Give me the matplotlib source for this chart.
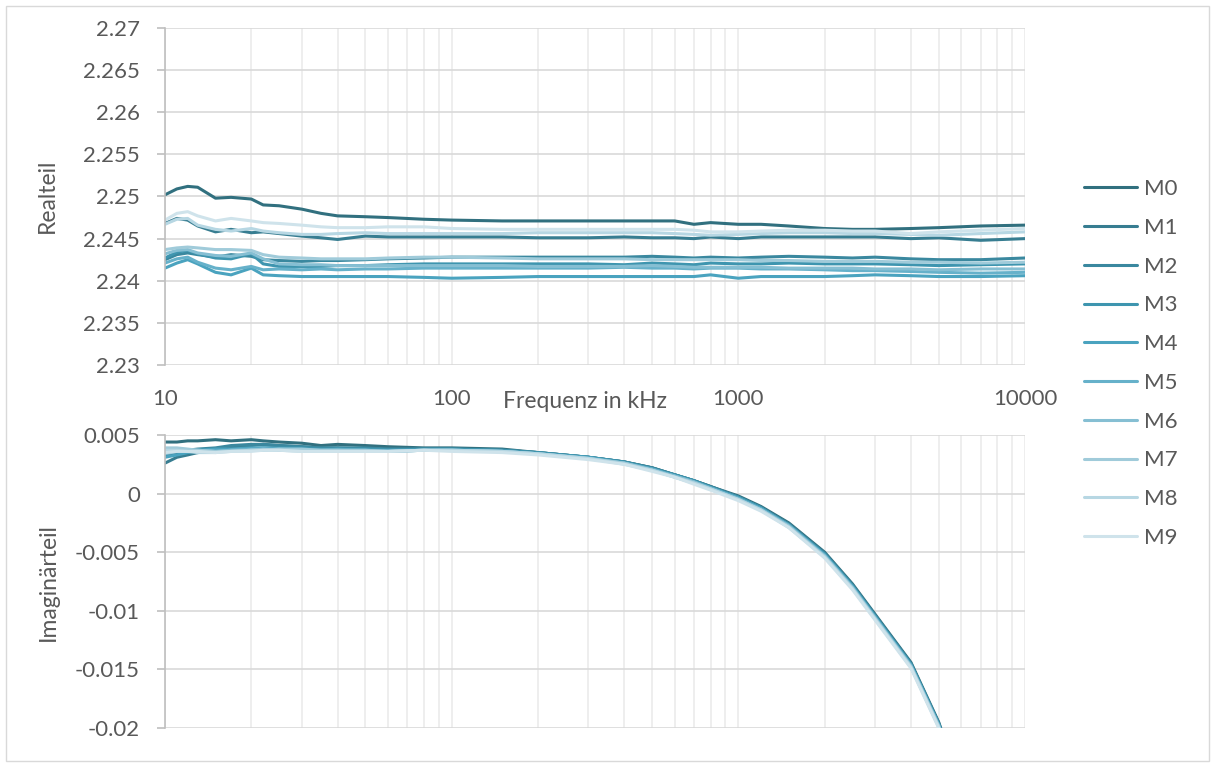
import matplotlib
matplotlib.use('Agg')
import matplotlib.pyplot as plt
from matplotlib.patches import Rectangle
from matplotlib.ticker import LogLocator, NullFormatter, FixedLocator, FixedFormatter

# Frequenzen in kHz
freq = [10, 11, 12, 13, 15, 17, 20, 22, 25, 30, 35, 40, 50, 60, 80, 100, 150, 200, 300, 400,
        500, 600, 700, 800, 1000, 1200, 1500, 2000, 2500, 3000, 4000, 5000, 7000, 10000]

names = ['M0', 'M1', 'M2', 'M3', 'M4', 'M5', 'M6', 'M7', 'M8', 'M9']
colors = ['#31707F', '#377D91', '#3A889F', '#3E95AF', '#4AA3BF',
          '#66B1CA', '#86BFD3', '#A0CBDA', '#B7D7E3', '#CFE3EB']

# Realteil
re_m0 = [2.2502, 2.2509, 2.2512, 2.2511, 2.2498, 2.2499, 2.2497, 2.2490, 2.2489, 2.2485, 2.2480, 2.2477,
         2.2476, 2.2475, 2.2473, 2.2472, 2.2471, 2.2471, 2.2471, 2.2471, 2.2471, 2.2471, 2.2467, 2.2469,
         2.2467, 2.2467, 2.2465, 2.2462, 2.2461, 2.2461, 2.2462, 2.2463, 2.2465, 2.2466]
re_m1 = [2.2468, 2.2474, 2.2472, 2.2465, 2.2458, 2.2461, 2.2457, 2.2458, 2.2456, 2.2453, 2.2451, 2.2449,
         2.2453, 2.2452, 2.2452, 2.2452, 2.2452, 2.2451, 2.2451, 2.2452, 2.2451, 2.2451, 2.2450, 2.2452,
         2.2450, 2.2452, 2.2452, 2.2452, 2.2452, 2.2452, 2.2450, 2.2451, 2.2448, 2.2450]
re_m2 = [2.2425, 2.2431, 2.2433, 2.2431, 2.2428, 2.2431, 2.2429, 2.2425, 2.2424, 2.2423, 2.2424, 2.2424,
         2.2425, 2.2426, 2.2427, 2.2428, 2.2428, 2.2428, 2.2428, 2.2428, 2.2429, 2.2428, 2.2427, 2.2428,
         2.2427, 2.2428, 2.2429, 2.2428, 2.2427, 2.2428, 2.2426, 2.2425, 2.2425, 2.2427]
re_m3 = [2.2427, 2.2434, 2.2436, 2.2432, 2.2427, 2.2426, 2.2432, 2.2420, 2.2417, 2.2417, 2.2417, 2.2418,
         2.2418, 2.2419, 2.2420, 2.2420, 2.2420, 2.2420, 2.2420, 2.2419, 2.2421, 2.2420, 2.2419, 2.2421,
         2.2420, 2.2420, 2.2421, 2.2420, 2.2420, 2.2420, 2.2419, 2.2418, 2.2419, 2.2420]
re_m4 = [2.2415, 2.2421, 2.2425, 2.2420, 2.2410, 2.2407, 2.2415, 2.2407, 2.2406, 2.2405, 2.2405, 2.2405,
         2.2405, 2.2405, 2.2404, 2.2403, 2.2404, 2.2405, 2.2405, 2.2405, 2.2405, 2.2405, 2.2405, 2.2407,
         2.2403, 2.2405, 2.2405, 2.2405, 2.2406, 2.2407, 2.2406, 2.2405, 2.2405, 2.2406]
re_m5 = [2.2421, 2.2426, 2.2428, 2.2422, 2.2415, 2.2413, 2.2417, 2.2413, 2.2414, 2.2413, 2.2414, 2.2413,
         2.2414, 2.2414, 2.2415, 2.2415, 2.2415, 2.2415, 2.2415, 2.2416, 2.2415, 2.2415, 2.2414, 2.2415,
         2.2415, 2.2414, 2.2414, 2.2413, 2.2412, 2.2412, 2.2411, 2.2410, 2.2409, 2.2410]
re_m6 = [2.2432, 2.2436, 2.2437, 2.2433, 2.2430, 2.2429, 2.2433, 2.2426, 2.2420, 2.2419, 2.2419, 2.2418,
         2.2418, 2.2418, 2.2418, 2.2418, 2.2418, 2.2417, 2.2417, 2.2417, 2.2418, 2.2417, 2.2416, 2.2416,
         2.2416, 2.2416, 2.2415, 2.2415, 2.2415, 2.2414, 2.2414, 2.2413, 2.2414, 2.2414]
re_m7 = [2.2437, 2.2439, 2.2440, 2.2439, 2.2437, 2.2437, 2.2436, 2.2431, 2.2428, 2.2427, 2.2426, 2.2426,
         2.2426, 2.2427, 2.2428, 2.2428, 2.2427, 2.2426, 2.2426, 2.2426, 2.2425, 2.2425, 2.2425, 2.2425,
         2.2425, 2.2424, 2.2424, 2.2423, 2.2423, 2.2423, 2.2422, 2.2422, 2.2421, 2.2422]
re_m8 = [2.2467, 2.2473, 2.2474, 2.2466, 2.2461, 2.2459, 2.2462, 2.2459, 2.2457, 2.2455, 2.2455, 2.2456,
         2.2457, 2.2456, 2.2456, 2.2456, 2.2456, 2.2457, 2.2457, 2.2457, 2.2457, 2.2456, 2.2455, 2.2454,
         2.2455, 2.2456, 2.2457, 2.2457, 2.2456, 2.2456, 2.2455, 2.2454, 2.2456, 2.2458]
re_m9 = [2.2472, 2.2480, 2.2482, 2.2477, 2.2471, 2.2474, 2.2471, 2.2469, 2.2468, 2.2466, 2.2464, 2.2463,
         2.2463, 2.2464, 2.2464, 2.2462, 2.2461, 2.2461, 2.2461, 2.2461, 2.2461, 2.2461, 2.2460, 2.2458,
         2.2458, 2.2459, 2.2460, 2.2460, 2.2459, 2.2459, 2.2456, 2.2458, 2.2460, 2.2462]

# Imaginaerteil
im_m0 = [0.0044, 0.0044, 0.0045, 0.0045, 0.0046, 0.0045, 0.0046, 0.0045, 0.0044, 0.0043, 0.0041, 0.0042,
         0.0041, 0.0040, 0.0039, 0.0039, 0.0038, 0.0035, 0.0031, 0.0027, 0.0022, 0.0016, 0.0011, 0.0006,
         -0.0002, -0.0011, -0.0025, -0.0050, -0.0077, -0.0103, -0.0144, -0.0195, -0.0300, -0.0450]
im_m1 = [0.0026, 0.0031, 0.0033, 0.0035, 0.0037, 0.0039, 0.0041, 0.0042, 0.0041, 0.0040, 0.0039, 0.0039,
         0.0038, 0.0038, 0.0038, 0.0038, 0.0037, 0.0035, 0.0031, 0.0027, 0.0022, 0.0016, 0.0011, 0.0006,
         -0.0003, -0.0012, -0.0026, -0.0051, -0.0078, -0.0104, -0.0145, -0.0196, -0.0300, -0.0450]
im_m2 = [0.0033, 0.0035, 0.0037, 0.0038, 0.0039, 0.0041, 0.0042, 0.0042, 0.0041, 0.0040, 0.0039, 0.0039,
         0.0039, 0.0038, 0.0038, 0.0038, 0.0037, 0.0035, 0.0031, 0.0027, 0.0022, 0.0016, 0.0011, 0.0006,
         -0.0003, -0.0012, -0.0026, -0.0051, -0.0078, -0.0104, -0.0145, -0.0196, -0.0300, -0.0450]
im_m3 = [0.0036, 0.0037, 0.0036, 0.0035, 0.0036, 0.0037, 0.0038, 0.0039, 0.0039, 0.0039, 0.0038, 0.0038,
         0.0038, 0.0037, 0.0038, 0.0038, 0.0037, 0.0035, 0.0031, 0.0027, 0.0021, 0.0016, 0.0011, 0.0005,
         -0.0003, -0.0012, -0.0027, -0.0052, -0.0079, -0.0105, -0.0146, -0.0197, -0.0302, -0.0452]
im_m4 = [0.0031, 0.0033, 0.0035, 0.0037, 0.0038, 0.0038, 0.0039, 0.0039, 0.0038, 0.0038, 0.0037, 0.0038,
         0.0037, 0.0037, 0.0037, 0.0037, 0.0036, 0.0034, 0.0031, 0.0026, 0.0021, 0.0015, 0.0010, 0.0005,
         -0.0004, -0.0013, -0.0027, -0.0052, -0.0079, -0.0105, -0.0146, -0.0197, -0.0302, -0.0452]
im_m5 = [0.0038, 0.0038, 0.0037, 0.0037, 0.0036, 0.0037, 0.0038, 0.0038, 0.0038, 0.0037, 0.0036, 0.0037,
         0.0037, 0.0036, 0.0037, 0.0037, 0.0036, 0.0034, 0.0030, 0.0026, 0.0021, 0.0015, 0.0010, 0.0005,
         -0.0004, -0.0013, -0.0027, -0.0053, -0.0080, -0.0106, -0.0147, -0.0198, -0.0303, -0.0453]
im_m6 = [0.0034, 0.0036, 0.0037, 0.0037, 0.0036, 0.0037, 0.0037, 0.0038, 0.0037, 0.0037, 0.0037, 0.0037,
         0.0036, 0.0036, 0.0037, 0.0037, 0.0036, 0.0034, 0.0030, 0.0026, 0.0020, 0.0015, 0.0010, 0.0004,
         -0.0005, -0.0014, -0.0028, -0.0053, -0.0080, -0.0106, -0.0147, -0.0198, -0.0303, -0.0453]
im_m7 = [0.0039, 0.0039, 0.0038, 0.0037, 0.0036, 0.0036, 0.0037, 0.0037, 0.0038, 0.0038, 0.0037, 0.0037,
         0.0037, 0.0036, 0.0037, 0.0037, 0.0036, 0.0034, 0.0030, 0.0026, 0.0020, 0.0014, 0.0009, 0.0004,
         -0.0005, -0.0014, -0.0028, -0.0054, -0.0081, -0.0107, -0.0148, -0.0199, -0.0304, -0.0454]
im_m8 = [0.0037, 0.0037, 0.0036, 0.0035, 0.0035, 0.0036, 0.0037, 0.0037, 0.0037, 0.0036, 0.0036, 0.0036,
         0.0036, 0.0036, 0.0037, 0.0037, 0.0036, 0.0034, 0.0030, 0.0025, 0.0020, 0.0014, 0.0009, 0.0004,
         -0.0005, -0.0014, -0.0029, -0.0054, -0.0081, -0.0107, -0.0148, -0.0199, -0.0304, -0.0454]
im_m9 = [0.0035, 0.0036, 0.0036, 0.0036, 0.0035, 0.0036, 0.0036, 0.0037, 0.0037, 0.0036, 0.0036, 0.0036,
         0.0036, 0.0036, 0.0037, 0.0036, 0.0035, 0.0033, 0.0029, 0.0025, 0.0019, 0.0014, 0.0008, 0.0003,
         -0.0006, -0.0015, -0.0029, -0.0055, -0.0082, -0.0108, -0.0149, -0.0200, -0.0305, -0.0455]

re_all = [re_m0, re_m1, re_m2, re_m3, re_m4, re_m5, re_m6, re_m7, re_m8, re_m9]
im_all = [im_m0, im_m1, im_m2, im_m3, im_m4, im_m5, im_m6, im_m7, im_m8, im_m9]

re_ticks = [2.23, 2.235, 2.24, 2.245, 2.25, 2.255, 2.26, 2.265, 2.27]
re_labels = ['2.23', '2.235', '2.24', '2.245', '2.25', '2.255', '2.26', '2.265', '2.27']
im_ticks = [-0.02, -0.015, -0.01, -0.005, 0, 0.005]
im_labels = ['-0.02', '-0.015', '-0.01', '-0.005', '0', '0.005']
x_ticks = [10, 100, 1000, 10000]
x_labels = ['10', '100', '1000', '10000']

plt.rcParams['font.family'] = ['Lato', 'DejaVu Sans']
txt = '#595959'
W, H = 1214, 767

fig = plt.figure(figsize=(W / 100, H / 100), dpi=100)
fig.patches.append(Rectangle((6 / W, 6 / H), 1203 / W, 755 / H, transform=fig.transFigure,
                             fill=False, edgecolor='#D9D9D9', linewidth=1))

l, r = 165 / W, 1025 / W
ax1 = fig.add_axes([l, 1 - 365 / H, r - l, (365 - 28) / H])
ax2 = fig.add_axes([l, 1 - 728 / H, r - l, (728 - 435) / H])


def style(ax, ticks, labels, lo, hi):
    ax.set_xscale('log')
    ax.set_xlim(10, 10000)
    ax.set_ylim(lo, hi)
    ax.yaxis.set_major_locator(FixedLocator(ticks))
    ax.yaxis.set_major_formatter(FixedFormatter(labels))
    ax.xaxis.set_minor_locator(LogLocator(base=10, subs=range(2, 10), numticks=20))
    ax.xaxis.set_minor_formatter(NullFormatter())
    for s in ['top', 'right', 'bottom']:
        ax.spines[s].set_visible(False)
    ax.spines['left'].set_color('#BFBFBF')
    ax.spines['left'].set_linewidth(1.2)
    ax.grid(True, axis='y', which='major', color='#D9D9D9', linewidth=1.2)
    ax.grid(True, axis='x', which='both', color='#EBEBEB', linewidth=1.2)
    ax.set_axisbelow(True)
    ax.tick_params(axis='y', which='major', length=6, width=1.2, color='#BFBFBF',
                   labelsize=16, labelcolor=txt, pad=12)
    ax.tick_params(axis='x', which='both', length=0, labelsize=16, labelcolor=txt, pad=17)


style(ax1, re_ticks, re_labels, 2.23, 2.27)
style(ax2, im_ticks, im_labels, -0.02, 0.005)
ax1.xaxis.set_major_locator(FixedLocator(x_ticks))
ax1.xaxis.set_major_formatter(FixedFormatter(x_labels))
ax2.xaxis.set_major_locator(FixedLocator(x_ticks))
ax2.tick_params(axis='x', labelbottom=False)

for name, c, re_v, im_v in zip(names, colors, re_all, im_all):
    ax1.plot(freq, re_v, color=c, linewidth=2.2, label=name, solid_capstyle='round')
    ax2.plot(freq, im_v, color=c, linewidth=2.2, solid_capstyle='round')

fig.text(585 / W, 1 - 401 / H, 'Frequenz in kHz', ha='center', va='center', fontsize=16.5, color=txt)
fig.text(47 / W, 1 - 196 / H, 'Realteil', ha='center', va='center', rotation=90, fontsize=16.5, color=txt)
fig.text(48 / W, 1 - 582 / H, 'Imaginärteil', ha='center', va='center', rotation=90, fontsize=16.5, color=txt)

fig.legend(loc='upper left', bbox_to_anchor=(1084 / W, 1 - 179 / H), frameon=False,
           fontsize=16, labelcolor=txt, handlelength=2.4, handletextpad=0.3,
           labelspacing=0.845, borderaxespad=0, borderpad=0)

fig.savefig('out.png', dpi=100)
